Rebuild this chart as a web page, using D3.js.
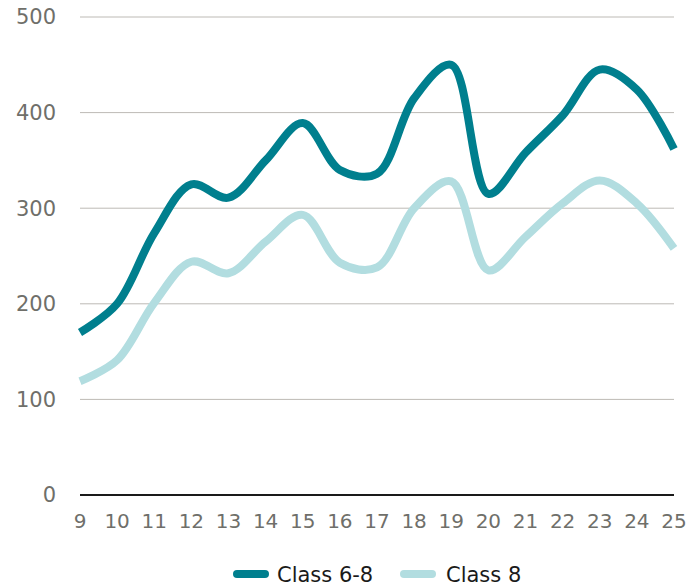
<!DOCTYPE html>
<html><head><meta charset="utf-8">
<script src="https://cdn.jsdelivr.net/npm/d3@7"></script>
<style>body{margin:0;background:#fff}svg{display:block}</style>
</head><body>
<script>
const ages = [9,10,11,12,13,14,15,16,17,18,19,20,21,22,23,24,25];
const class68 = [170,200,274,325,311,350,389,340,336,415,450,315,358,397,445,424,362];
const class8  = [119,141,201,244,232,265,293,243,238,300,328,235,270,305,329,305,258];
const yTicks = [0,100,200,300,400,500];
const seriesNames = ["Class 6-8","Class 8"];
const colors = ["#007F8E","#B2DDE0"];

const W=686,H=587;
const svg=d3.select("body").append("svg").attr("width",W).attr("height",H);
const x=d3.scaleLinear().domain([9,25]).range([80,674]);
const y=d3.scaleLinear().domain([0,500]).range([495,17]);
const font="'DejaVu Sans', sans-serif";

// gridlines
svg.append("g").selectAll("line").data(yTicks.filter(d=>d>0)).join("line")
  .attr("x1",x(9)).attr("x2",x(25)).attr("y1",d=>y(d)).attr("y2",d=>y(d))
  .attr("stroke","#BDBAB5").attr("stroke-width",1);

// y labels
svg.append("g").selectAll("text").data(yTicks).join("text")
  .attr("x",56).attr("y",d=>y(d)).attr("dy","0.35em").attr("text-anchor","end")
  .attr("font-family",font).attr("font-size",21).attr("fill","#6f6f6a").text(d=>d);

// lines
const line=d3.line().x((d,i)=>x(ages[i])).y(d=>y(d)).curve(d3.curveCatmullRom.alpha(0.5));
[class8,class68].forEach((s,k)=>{
  const ci = k===0?1:0;
  svg.append("path").datum(s).attr("d",line).attr("fill","none")
    .attr("stroke",colors[ci]).attr("stroke-width",8).attr("stroke-linecap","butt").attr("stroke-linejoin","round");
});

// x axis baseline
svg.append("line").attr("x1",x(9)).attr("x2",x(25)).attr("y1",y(0)).attr("y2",y(0))
  .attr("stroke","#1a1a1a").attr("stroke-width",2);

// x labels
svg.append("g").selectAll("text").data(ages).join("text")
  .attr("x",d=>x(d)).attr("y",521).attr("dy","0.35em").attr("text-anchor","middle")
  .attr("font-family",font).attr("font-size",20).attr("fill","#6f6f6a").text(d=>d);

// legend
const leg=[{x:233,tx:277},{x:400,tx:446}];
seriesNames.forEach((n,i)=>{
  svg.append("line").attr("x1",leg[i].x+4).attr("x2",leg[i].x+32).attr("y1",574).attr("y2",574)
    .attr("stroke",colors[i]).attr("stroke-width",8).attr("stroke-linecap","round");
  svg.append("text").attr("x",leg[i].tx).attr("y",575).attr("dy","0.35em")
    .attr("font-family",font).attr("font-size",21).attr("fill","#1a1a1a").text(n);
});
</script>
</body></html>
